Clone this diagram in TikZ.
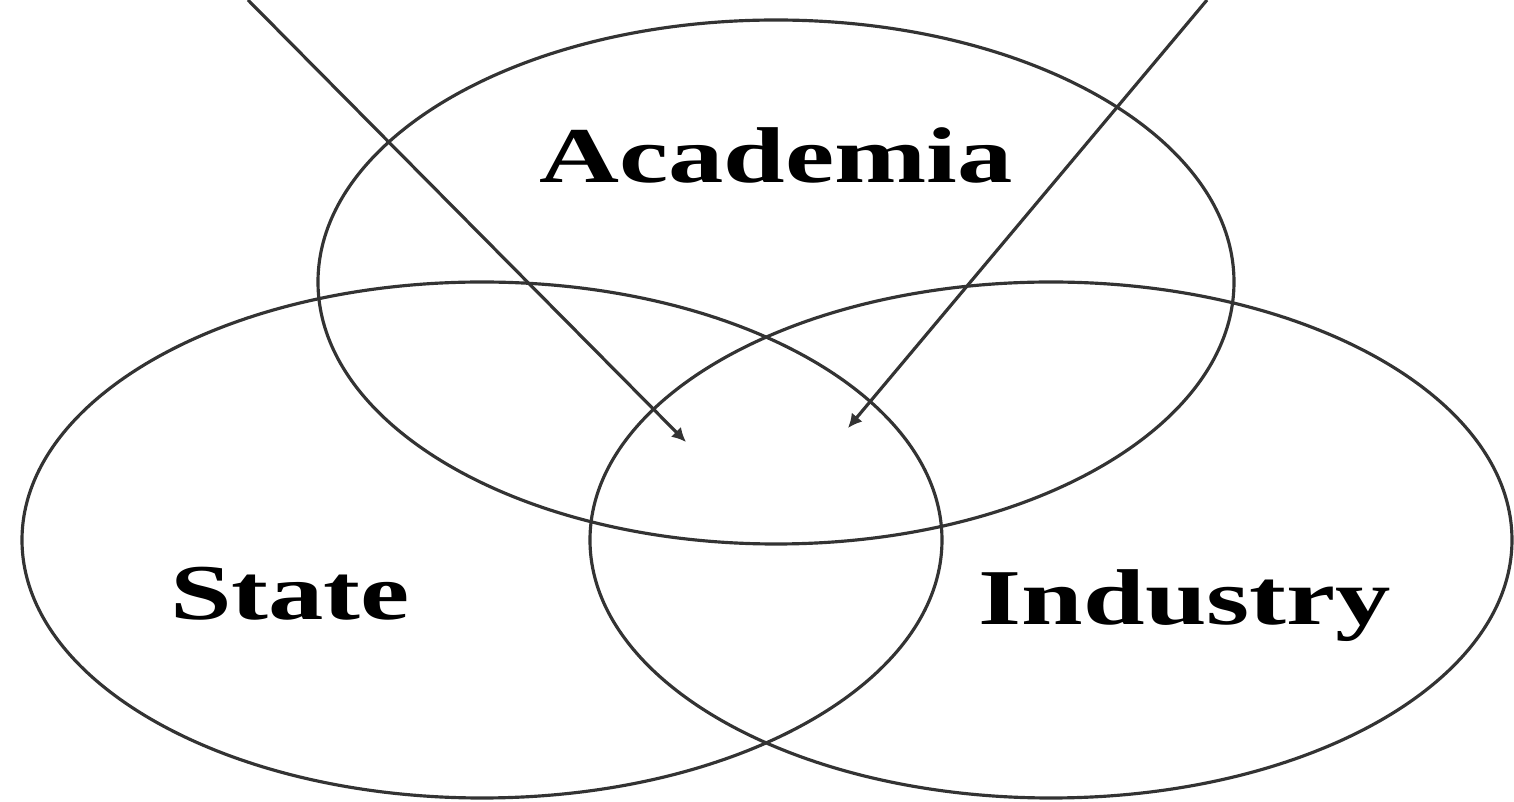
\documentclass[tikz,border=0pt]{standalone}
\usepackage{fontspec}
\setmainfont{Liberation Serif}
\newfontfamily\vennfont[FakeStretch=1.4]{Liberation Serif}
\usepackage{xcolor}
\usepackage{tikz}
\usetikzlibrary{arrows.meta,positioning,shapes.geometric}
\definecolor{VennLine}{HTML}{333333}

\begin{document}
\begin{tikzpicture}[
    set/.style={ellipse,draw=VennLine,line width=0.9pt,inner sep=0pt},
    arrow/.style={-{Latex[length=1.4mm,width=1.4mm]},VennLine,line width=0.9pt},
    setlabel/.style={font=\vennfont\bfseries\fontsize{22.5}{26}\selectfont,
                 anchor=base,inner sep=0pt}]

    \useasboundingbox (0,0) rectangle (15.14,8.02);

    \node[set,minimum width=9.16cm,minimum height=5.24cm] (acad) at (7.76,5.20) {};
    \node[set,minimum width=9.20cm,minimum height=5.16cm] (state) at (4.82,2.62) {};
    \node[set,minimum width=9.22cm,minimum height=5.16cm] (ind) at (10.51,2.62) {};

    \node[setlabel] (acadname) at (7.76,6.19) {Academia};
    \node[setlabel] (statename) at (2.90,1.82) {State};
    \node[setlabel] (indname) at (11.85,1.77) {Industry};

    \coordinate (lefttop) at (2.48,8.02);
    \coordinate (leftend) at (6.86,3.60);
    \coordinate (righttop) at (12.07,8.02);
    \coordinate (rightend) at (8.48,3.74);

    \draw[arrow] (lefttop) -- (leftend);
    \draw[arrow] (righttop) -- (rightend);
  \end{tikzpicture}
\end{document}
